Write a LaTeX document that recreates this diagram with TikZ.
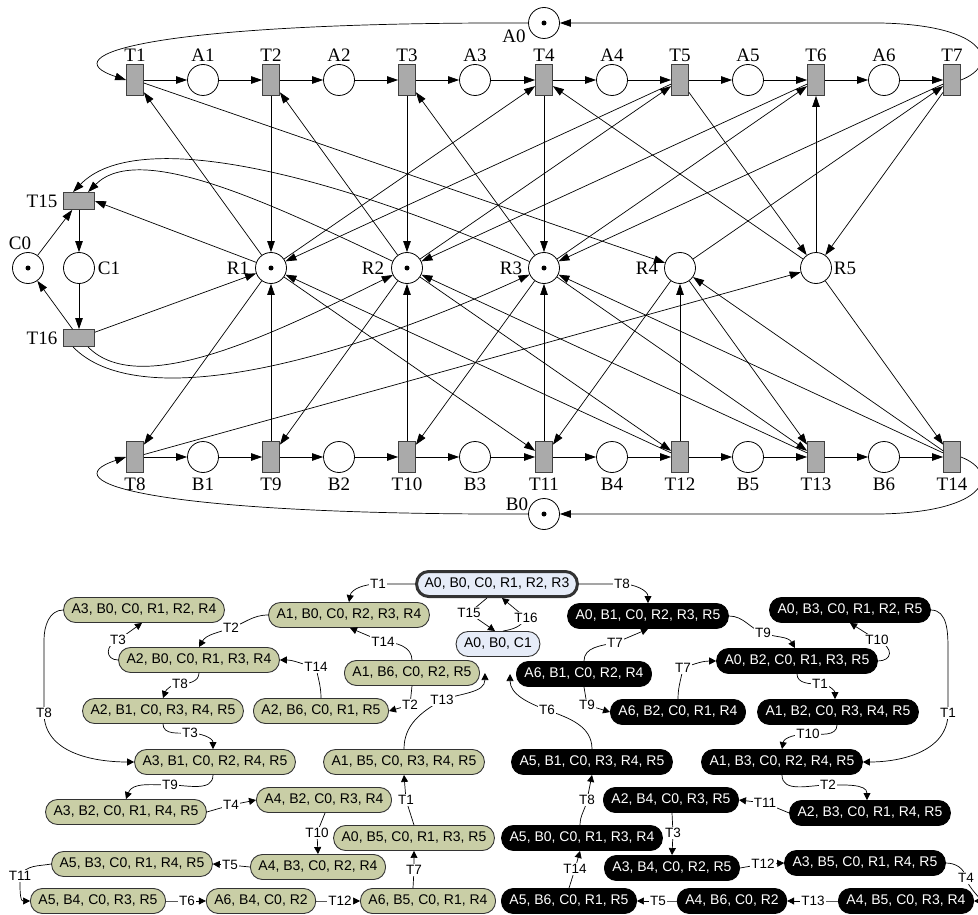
\documentclass[tikz,border=0pt]{standalone}
\usepackage{fontspec}
\setmainfont{Liberation Serif}
\newfontfamily\sansf{Liberation Sans}
\usetikzlibrary{arrows.meta,calc}
\definecolor{olivefill}{RGB}{201,206,166}
\definecolor{lbluefill}{RGB}{230,236,248}
\definecolor{trgray}{RGB}{170,170,170}
\begin{document}
\begin{tikzpicture}[x=1pt,y=1pt,
  pl/.style={circle,draw,line width=0.8pt,minimum size=31pt,inner sep=0pt},
  tr/.style={rectangle,draw=black!75,fill=trgray,line width=0.8pt,minimum width=17pt,minimum height=31pt,inner sep=0pt},
  htr/.style={rectangle,draw=black!75,fill=trgray,line width=0.8pt,minimum width=31pt,minimum height=17pt,inner sep=0pt},
  tok/.style={circle,fill=black,minimum size=5pt,inner sep=0pt},
  ptxt/.style={font=\fontsize{19}{19}\selectfont,inner sep=0pt},
  pa/.style={line width=0.7pt,-{Triangle[length=11pt,width=7.5pt]}},
  st/.style={rectangle,rounded corners=12pt,minimum height=25pt,inner xsep=8pt,inner ysep=0pt,line width=0.9pt,font=\sansf\fontsize{14}{14}\selectfont},
  ol/.style={st,draw=black!80,fill=olivefill},
  bk/.style={st,draw=black,fill=black,text=white},
  bl/.style={st,draw=black!80,fill=lbluefill},
  el/.style={fill=white,inner sep=1pt,font=\sansf\fontsize{13.5}{14}\selectfont},
  ga/.style={line width=0.7pt,-{Triangle[length=7pt,width=7pt]}},
]
\useasboundingbox (0,0) rectangle (978,-915);
\fill[white] (0,0) rectangle (978,-915);

% ---------------- Petri net ----------------
\foreach \n/\x in {1/135,2/271,3/407,4/544,5/680,6/816,7/952}{
  \node[tr] (T\n) at (\x,-80) {};
  \node[ptxt] (lT\n) at (\x,-55) {T\n};
}
\foreach \n/\x in {1/203,2/339,3/475,4/612,5/748,6/884}{
  \node[pl] (A\n) at (\x,-80) {};
  \node[ptxt] (lA\n) at (\x,-55) {A\n};
}
\foreach \n/\x in {8/135,9/271,10/407,11/544,12/680,13/816,14/952}{
  \node[tr] (T\n) at (\x,-457) {};
  \node[ptxt] (lT\n) at (\x,-484) {T\n};
}
\foreach \n/\x in {1/203,2/339,3/475,4/612,5/748,6/884}{
  \node[pl] (B\n) at (\x,-457) {};
  \node[ptxt] (lB\n) at (\x,-484) {B\n};
}
\foreach \n/\x/\lx in {1/271/238,2/407/373,3/544/511,4/680/647,5/816/845}{
  \node[pl] (R\n) at (\x,-268) {};
  \node[ptxt] (lR\n) at (\lx,-268) {R\n};
}
\node[pl] (A0) at (544,-23) {};
\node[ptxt] (lA0) at (514,-36) {A0};
\node[pl] (B0) at (544,-514) {};
\node[ptxt] (lB0) at (517,-504) {B0};
\node[pl] (C0) at (28,-268) {};
\node[ptxt] (lC0) at (20,-243) {C0};
\node[pl] (C1) at (79,-268) {};
\node[ptxt] (lC1) at (109,-268) {C1};
\node[htr] (T15) at (79,-201) {};
\node[ptxt] (lT15) at (42,-201) {T15};
\node[htr] (T16) at (79,-338) {};
\node[ptxt] (lT16) at (42,-338) {T16};
\foreach \p in {A0,B0,C0,R1,R2,R3}{ \node[tok] (tok\p) at (\p) {}; }

% chains
\draw[pa] (T1)--(A1); \draw[pa] (A1)--(T2); \draw[pa] (T2)--(A2); \draw[pa] (A2)--(T3);
\draw[pa] (T3)--(A3); \draw[pa] (A3)--(T4); \draw[pa] (T4)--(A4); \draw[pa] (A4)--(T5);
\draw[pa] (T5)--(A5); \draw[pa] (A5)--(T6); \draw[pa] (T6)--(A6); \draw[pa] (A6)--(T7);
\draw[pa] (T8)--(B1); \draw[pa] (B1)--(T9); \draw[pa] (T9)--(B2); \draw[pa] (B2)--(T10);
\draw[pa] (T10)--(B3); \draw[pa] (B3)--(T11); \draw[pa] (T11)--(B4); \draw[pa] (B4)--(T12);
\draw[pa] (T12)--(B5); \draw[pa] (B5)--(T13); \draw[pa] (T13)--(B6); \draw[pa] (B6)--(T14);
% loops
\draw[pa] (T7.east) .. controls (1000,-65) and (990,-25) .. (880,-23) -- (A0);
\draw[pa] (A0) .. controls (150,-22) and (50,-55) .. (T1.west);
\draw[pa] (T14.east) .. controls (1000,-472) and (990,-512) .. (880,-514) -- (B0);
\draw[pa] (B0) .. controls (150,-515) and (50,-482) .. (T8.west);
% C
\draw[pa] (C0) -- (T15);
\draw[pa] (T15) -- (C1);
\draw[pa] (C1) -- (T16);
\draw[pa] (T16) -- (C0);
% resources, upper transitions
\draw[pa] (R1) -- (T1);  \draw[pa] (T1) -- (R4);
\draw[pa] (R2) -- (T2);  \draw[pa] (T2) -- (R1);
\draw[pa] (R3) -- (T3);  \draw[pa] (T3) -- (R2);
\draw[pa] (R1) -- (T4);  \draw[pa] (R5) -- (T4);  \draw[pa] (T4) -- (R3);
\draw[pa] (R2) -- (T5);  \draw[pa] (T5) -- (R1);  \draw[pa] (T5) -- (R5);
\draw[pa] (R3) -- (T6);  \draw[pa] (R5) -- (T6);  \draw[pa] (T6) -- (R2);
\draw[pa] (R4) -- (T7);  \draw[pa] (T7) -- (R3);  \draw[pa] (T7) -- (R5);
% resources, lower transitions
\draw[pa] (R1) -- (T8);  \draw[pa] (T8) -- (R5);
\draw[pa] (R2) -- (T9);  \draw[pa] (T9) -- (R1);
\draw[pa] (R3) -- (T10); \draw[pa] (T10) -- (R2);
\draw[pa] (R1) -- (T11); \draw[pa] (R4) -- (T11); \draw[pa] (T11) -- (R3);
\draw[pa] (R2) -- (T12); \draw[pa] (T12) -- (R1); \draw[pa] (T12) -- (R4);
\draw[pa] (R3) -- (T13); \draw[pa] (R4) -- (T13); \draw[pa] (T13) -- (R2);
\draw[pa] (R5) -- (T14); \draw[pa] (T14) -- (R3); \draw[pa] (T14) -- (R4);
% T15 / T16
\draw[pa] (R1) -- (T15.east);
\draw[pa] (R3) .. controls (325,-171) and (136,-127) .. ($(T15.north)+(-6,0)$);
\draw[pa] (R2) .. controls (275,-206) and (140,-140) .. ($(T15.north)+(9,0)$);
\draw[pa] (T16) -- (R1);
\draw[pa] ($(T16.south)+(-6,0)$) .. controls (136,-412) and (325,-368) .. (R3);
\draw[pa] ($(T16.south)+(9,0)$) .. controls (140,-400) and (275,-333) .. (R2);

% ---------------- reachability graph ----------------
\node[bl,line width=3pt] (root) at (497,-584) {A0, B0, C0, R1, R2, R3};
\node[bl] (c1s) at (498,-644) {A0, B0, C1};
\node[ol] (gA3B0) at (144,-610) {A3, B0, C0, R1, R2, R4};
\node[ol] (gA1B0) at (349,-615) {A1, B0, C0, R2, R3, R4};
\node[ol] (gA2B0) at (199,-660) {A2, B0, C0, R1, R3, R4};
\node[ol] (gA1B6) at (412,-673) {A1, B6, C0, R2, R5};
\node[ol] (gA2B1) at (163,-711) {A2, B1, C0, R3, R4, R5};
\node[ol] (gA2B6) at (321,-711) {A2, B6, C0, R1, R5};
\node[ol] (gA3B1) at (215,-762) {A3, B1, C0, R2, R4, R5};
\node[ol] (gA1B5) at (404,-762) {A1, B5, C0, R3, R4, R5};
\node[ol] (gA3B2) at (126,-812) {A3, B2, C0, R1, R4, R5};
\node[ol] (gA4B2) at (324,-800) {A4, B2, C0, R3, R4};
\node[ol] (gA0B5) at (414,-838) {A0, B5, C0, R1, R3, R5};
\node[ol] (gA5B3) at (132,-864) {A5, B3, C0, R1, R4, R5};
\node[ol] (gA4B3) at (318,-867) {A4, B3, C0, R2, R4};
\node[ol] (gA5B4) at (98,-901) {A5, B4, C0, R3, R5};
\node[ol] (gA6B4) at (261,-901) {A6, B4, C0, R2};
\node[ol] (gA6B5) at (428,-901) {A6, B5, C0, R1, R4};
\node[bk] (kA0B1) at (648,-616) {A0, B1, C0, R2, R3, R5};
\node[bk] (kA0B3) at (850,-610) {A0, B3, C0, R1, R2, R5};
\node[bk] (kA0B2) at (797,-661) {A0, B2, C0, R1, R3, R5};
\node[bk] (kA6B1) at (584,-674) {A6, B1, C0, R2, R4};
\node[bk] (kA6B2) at (678,-712) {A6, B2, C0, R1, R4};
\node[bk] (kA1B2) at (838,-712) {A1, B2, C0, R3, R4, R5};
\node[bk] (kA5B1) at (592,-762) {A5, B1, C0, R3, R4, R5};
\node[bk] (kA1B3) at (782,-762) {A1, B3, C0, R2, R4, R5};
\node[bk] (kA2B4) at (671,-800) {A2, B4, C0, R3, R5};
\node[bk] (kA2B3) at (870,-813) {A2, B3, C0, R1, R4, R5};
\node[bk] (kA5B0) at (582,-838) {A5, B0, C0, R1, R3, R4};
\node[bk] (kA3B4) at (672,-868) {A3, B4, C0, R2, R5};
\node[bk] (kA3B5) at (865,-863) {A3, B5, C0, R1, R4, R5};
\node[bk] (kA5B6) at (569,-901) {A5, B6, C0, R1, R5};
\node[bk] (kA4B6) at (732,-901) {A4, B6, C0, R2};
\node[bk] (kA4B5) at (906,-901) {A4, B5, C0, R3, R4};

% root edges
\draw[ga] (root.west) -- (378,-584) node[el]{T1} to[out=180,in=80] (gA1B0.north);
\draw[ga] (root.east) -- (622,-584) node[el]{T8} to[out=0,in=90] (kA0B1.north);
\draw[ga] ($(root.south)+(-10,0)$) -- (469,-613) node[el]{T15} -- ($(c1s.north)+(-3,0)$);
\draw[ga] ($(c1s.north)+(5,0)$) to[out=10,in=-120] (526,-618) node[el]{T16} -- ($(root.south)+(5,0)$);
% olive edges
\draw[ga] (gA1B0.west) to[out=180,in=20] (231,-628) node[el]{T2} to[out=200,in=60] (gA2B0.north);
\draw[ga] (gA2B0.west) .. controls (105,-660) and (105,-645) .. (118,-640) node[el]{T3} -- ($(gA3B0.south)+(-2,0)$);
\draw[ga] (gA2B0.south) to[out=-90,in=0] (180,-684) node[el]{T8} to[out=180,in=70] (gA2B1.north);
\draw[ga] (gA3B0.west) to[out=180,in=90] (44,-640) -- (44,-713) node[el]{T8} to[out=-90,in=180] (gA3B1.west);
\draw[ga] (gA1B6.north) to[out=90,in=0] (383,-642) node[el]{T14} -- ($(gA1B0.south)+(1,0)$);
\draw[ga] (gA2B6.north) to[out=90,in=-80] (316,-667) node[el]{T14} to[out=170,in=0] (gA2B0.east);
\draw[ga] (gA1B6.south) -- (410,-705) node[el]{T2} -- (gA2B6.east);
\draw[ga] (gA1B5.north) to[out=90,in=-150] (442,-700) node[el]{T13} to[out=20,in=-90] ($(gA1B6.east)+(5,0)$);
\draw[ga] (gA2B1.south) to[out=-90,in=180] (190,-733) node[el]{T3} to[out=0,in=90] ($(gA3B1.north)+(-2,0)$);
\draw[ga] ($(gA3B1.south)+(-2,0)$) to[out=-90,in=0] (170,-785) node[el]{T9} to[out=180,in=70] (gA3B2.north);
\draw[ga] (gA3B2.east) -- (231,-805) node[el]{T4} -- (gA4B2.west);
\draw[ga] ($(gA4B2.south)+(1,0)$) -- (317,-833) node[el]{T10} -- (gA4B3.north);
\draw[ga] (gA4B3.west) -- (230,-865) node[el]{T5} -- (gA5B3.east);
\draw[ga] (gA5B3.west) to[out=190,in=60] (20,-876) node[el]{T11} to[out=-90,in=180] (gA5B4.west);
\draw[ga] (gA5B4.east) -- (187,-901) node[el]{T6} -- (gA6B4.west);
\draw[ga] (gA6B4.east) -- (340,-901) node[el]{T12} -- (gA6B5.west);
\draw[ga] ($(gA6B5.north)+(-15,0)$) -- (414,-870) node[el]{T7} -- (gA0B5.south);
\draw[ga] (gA0B5.north) -- (406,-800) node[el]{T1} -- (gA1B5.south);
% black edges
\draw[ga] (kA0B1.east) to[out=0,in=160] (763,-633) node[el]{T9} to[out=-20,in=120] ($(kA0B2.north)+(-2,0)$);
\draw[ga] (kA6B1.north) to[out=90,in=190] (615,-643) node[el]{T7} -- (kA0B1.south);
\draw[ga] (kA6B1.south) -- (587,-705) node[el]{T9} -- (kA6B2.west);
\draw[ga] (kA6B2.north) to[out=90,in=-100] (683,-668) node[el]{T7} to[out=20,in=180] (kA0B2.west);
\draw[ga] (kA0B2.east) .. controls (892,-661) and (895,-648) .. (877,-640) node[el]{T10} -- (kA0B3.south);
\draw[ga] (kA0B2.south) to[out=-90,in=180] (820,-684) node[el]{T1} to[out=0,in=90] ($(kA1B2.north)+(-3,0)$);
\draw[ga] (kA0B3.east) to[out=0,in=90] (948,-650) -- (948,-713) node[el]{T1} to[out=-90,in=0] (kA1B3.east);
\draw[ga] ($(kA1B2.south)+(-1,0)$) to[out=-90,in=0] (808,-734) node[el]{T10} to[out=180,in=80] (kA1B3.north);
\draw[ga] (kA1B3.south) to[out=-90,in=180] (828,-785) node[el]{T2} to[out=0,in=90] ($(kA2B3.north)+(-3,0)$);
\draw[ga] (kA2B3.west) -- (765,-803) node[el]{T11} -- (kA2B4.east);
\draw[ga] ($(kA2B4.south)+(1,0)$) -- (673,-833) node[el]{T3} -- (kA3B4.north);
\draw[ga] (kA3B4.east) -- (763,-864) node[el]{T12} -- (kA3B5.west);
\draw[ga] (kA3B5.east) to[out=0,in=100] (966,-878) node[el]{T4} to[out=-80,in=0] (kA4B5.east);
\draw[ga] (kA4B5.west) -- (813,-901) node[el]{T13} -- (kA4B6.east);
\draw[ga] (kA4B6.west) -- (658,-901) node[el]{T5} -- (kA5B6.east);
\draw[ga] (kA5B6.north) -- (575,-869) node[el]{T14} -- ($(kA5B0.south)+(-2,0)$);
\draw[ga] ($(kA5B0.north)+(-2,0)$) to[out=90,in=-100] (587,-800) node[el]{T8} -- (kA5B1.south);
\draw[ga] (kA5B1.north) to[out=90,in=-20] (547,-710) node[el]{T6} to[out=160,in=-90] ($(kA6B1.west)+(-6,0)$);
\end{tikzpicture}
\end{document}
